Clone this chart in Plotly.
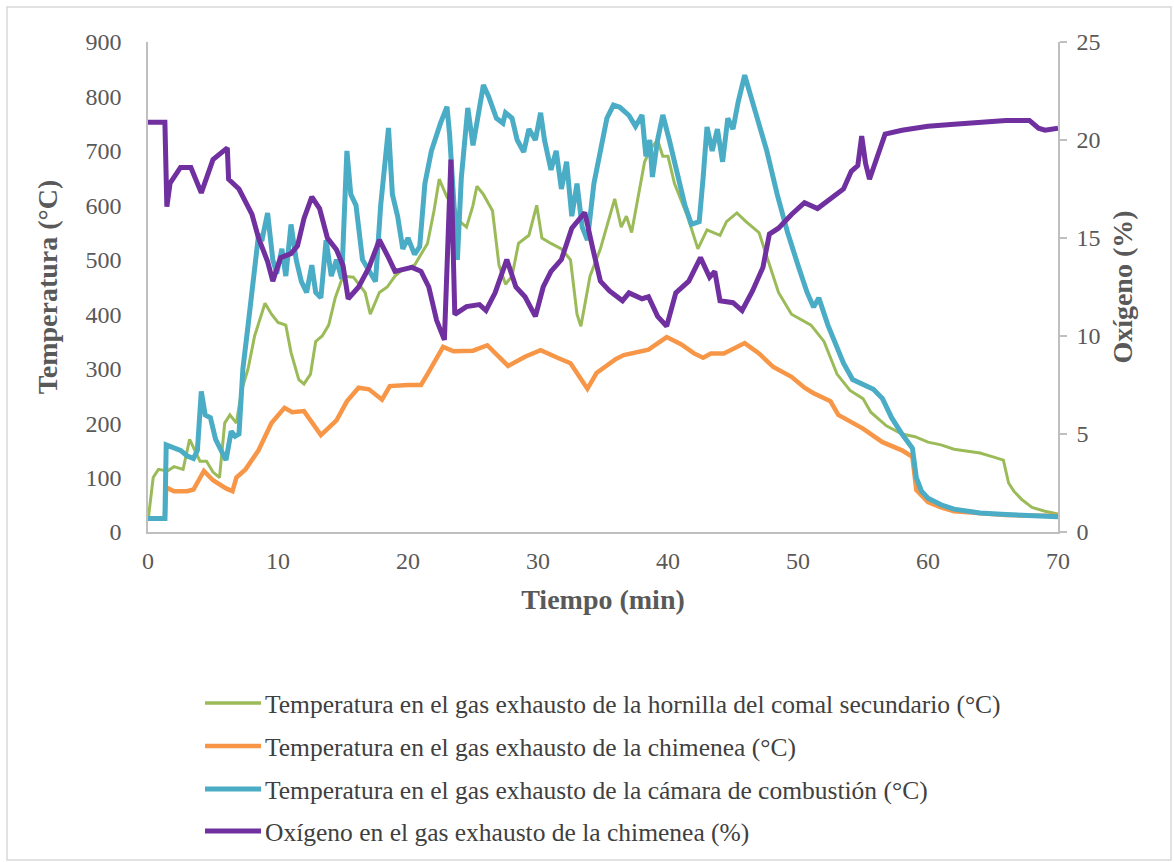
import plotly.graph_objects as go

# ---------------- data ----------------
t_green = [0, 0.4, 0.8, 1.5, 2, 2.7, 3.2, 3.6, 4, 4.5, 5, 5.5, 5.9, 6.3, 6.8, 7.2, 7.7, 8.2, 8.7, 9, 9.5, 10, 10.6,
           11, 11.6, 12, 12.5, 12.9, 13.4, 13.9, 14.4, 15, 15.8, 16.7, 17.1, 17.8, 18.4, 19, 19.5, 20.5, 21.5, 22,
           22.4, 23, 23.5, 24, 24.5, 25, 25.3, 25.8, 26.5, 27, 27.5, 28, 28.5, 29.3, 29.9, 30.3, 31, 31.8, 32.5, 33,
           33.3, 34, 34.8, 35.3, 35.9, 36.4, 36.8, 37.2, 37.6, 38.2, 38.7, 39.2, 39.6, 40, 40.5, 41.5, 42.3, 43,
           44, 44.5, 45.3, 46, 47, 47.8, 48.5, 49.5, 50.3, 51, 52, 53, 54, 55, 55.6, 56.8, 58, 59, 60, 61, 62, 63,
           64, 65, 65.8, 66.2, 66.6, 67.2, 68, 69, 70]
v_green = [20, 100, 115, 112, 120, 115, 170, 150, 130, 130, 110, 100, 200, 215, 200, 260, 300, 360, 400, 420, 400, 385,
           380, 330, 280, 272, 290, 350, 360, 380, 430, 470, 468, 440, 400, 440, 450, 470, 480, 490, 530, 590,
           648, 615, 600, 570, 560, 600, 635, 620, 590, 490, 455, 470, 530, 545, 600, 540, 530, 520, 500, 400,
           378, 470, 520, 560, 612, 560, 580, 550, 600, 680, 705, 720, 690, 690, 640, 580, 520, 555,
           545, 570, 586, 570, 550, 490, 440, 400, 390, 380, 350, 290, 260, 245, 220, 195, 180, 175, 165, 160, 152, 148,
           145, 138, 132, 90, 75, 60, 45, 38, 33]

t_orange = [0, 1.3, 1.4, 2, 3, 3.5, 4.3, 5, 6, 6.5, 6.8, 7.5, 8.5, 9.5, 10.5, 11.1, 12, 12.6, 13.3, 14.5, 15.3, 16.2,
            17, 18, 18.6, 20, 21, 21.5, 22.7, 23.5, 25, 26.1, 27.7, 29, 30.2, 31.5, 32.5, 33.8, 34.5, 36, 36.6,
            38.5, 39.9, 41, 42, 42.7, 43.3, 44.3, 45.9, 47, 48.1, 49.5, 50.5, 51.2, 52.5, 53.1, 55, 56.5, 58, 58.8,
            59.1, 60, 61, 62, 64, 66, 68, 70]
v_orange = [25, 25, 82, 75, 75, 78, 112, 95, 80, 75, 100, 115, 150, 200, 228, 220, 222, 200, 178, 205, 240, 265,
            262, 243, 268, 270, 270, 290, 340, 332, 333, 343, 305, 322, 334, 320, 310, 263, 292, 318, 325,
            335, 358, 345, 328, 320, 328, 328, 347, 328, 303, 285, 265, 255, 240, 215, 190, 165, 150, 138,
            77, 55, 45, 38, 34, 31, 30, 30]

t_cyan = [0, 1.3, 1.4, 2, 2.5, 3, 3.5, 3.8, 4.1, 4.4, 4.8, 5.2, 5.6, 6.0, 6.4, 6.7, 7.0, 7.3, 7.7, 8.1, 8.5, 8.8,
          9.2, 9.6, 9.9, 10.3, 10.6, 11.0, 11.4, 11.8, 12.2, 12.6, 12.9, 13.3, 13.7, 14.1, 14.5, 14.9, 15.3,
          15.6, 16.0, 16.5, 17.0, 17.5, 17.9, 18.5, 18.8, 19.2, 19.6, 20.0, 20.5, 20.9, 21.3, 21.8, 22.5, 23.0,
          23.2, 23.5, 23.8, 24.1, 24.6, 25.0, 25.4, 25.8, 26.2, 26.8, 27.3, 27.5, 28.0, 28.4, 28.9, 29.3, 29.8,
          30.2, 30.5, 31.0, 31.4, 31.8, 32.2, 32.6, 33.0, 33.4, 33.8, 34.3, 34.8, 35.3, 35.8, 36.3, 37.0, 37.5,
          38.0, 38.3, 38.6, 38.8, 39.2, 39.6, 40.1, 40.8, 41.3, 41.8, 42.4, 42.7, 43.0, 43.4, 43.8, 44.2, 44.6,
          45.0, 45.4, 45.9, 46.4, 46.9, 47.6, 48.4, 49.2, 50.0, 50.7, 51.2, 51.6, 52.3, 53.0, 53.5, 54.2, 55.0,
          55.8, 56.5, 57.2, 58.0, 58.8, 59.1, 59.5, 60.0, 61.0, 62.0, 63.0, 64.0, 66.0, 68.0, 70.0]
v_cyan = [25, 25, 160, 155, 150, 140, 135, 150, 258, 215, 210, 170, 150, 132, 185, 176, 180, 300, 380, 460, 545,
          540, 586, 500, 475, 520, 470, 565, 500, 460, 440, 490, 440, 430, 536, 470, 500, 465, 700,
          620, 600, 500, 480, 460, 600, 742, 620, 580, 520, 540, 510, 524, 640, 700, 751, 781,
          730, 600, 500, 650, 779, 710, 770, 821, 800, 760, 751, 770, 760, 720, 698, 740, 720,
          770, 720, 665, 700, 630, 680, 580, 640, 560, 536, 640, 700, 760, 784, 780, 765, 745,
          766, 690, 720, 652, 720, 766, 720, 650, 600, 565, 570, 650, 744, 700, 740, 680, 760,
          740, 790, 839, 800, 760, 700, 620, 550, 490, 440, 413, 430, 380, 340, 310, 280, 270,
          262, 245, 210, 180, 154, 100, 75, 62, 50, 42, 38, 35, 32, 30, 28]

t_oxy = [0, 1.3, 1.45, 1.7, 2.5, 3.3, 4.1, 5.0, 6.1, 6.2, 7.0, 8.0, 8.5, 9.2, 9.6, 10.2, 11.0, 11.5, 12.0, 12.6,
         13.2, 13.8, 14.5, 15.0, 15.4, 16.2, 17.0, 17.8, 18.5, 19.0, 20.3, 21.0, 21.6, 22.2, 22.8, 23.3, 23.6,
         23.8, 24.5, 25.5, 26.0, 26.7, 27.6, 28.3, 29.0, 29.8, 30.4, 31.0, 31.8, 32.6, 33.6, 34.2, 34.8, 35.5,
         36.5, 37.0, 38.0, 38.5, 39.2, 39.9, 40.6, 41.6, 42.5, 43.2, 43.6, 44.0, 45.0, 45.7, 46.5, 47.3, 47.8,
         48.5, 49.5, 50.5, 51.2, 51.5, 52.5, 53.5, 54.1, 54.6, 54.9, 55.2, 55.5, 56.0, 56.7, 58.0, 60.0, 62.0,
         64.0, 66.0, 67.8, 68.5, 69.0, 70.0]
v_oxy = [20.9, 20.9, 16.6, 17.8, 18.6, 18.6, 17.3, 19.0, 19.6, 18.0, 17.5, 16.2, 15.0, 13.8, 12.8, 14.0, 14.2, 14.6,
         16.0, 17.1, 16.5, 15.0, 14.4, 13.6, 11.9, 12.5, 13.5, 14.9, 14.0, 13.3, 13.5, 13.3, 12.5, 10.8, 9.8,
         19.0, 11.1, 11.2, 11.5, 11.6, 11.3, 12.2, 13.9, 12.5, 12.0, 11.0, 12.5, 13.3, 13.9, 15.5, 16.3, 14.5,
         12.8, 12.3, 11.8, 12.2, 11.9, 12.0, 11.0, 10.5, 12.2, 12.8, 14.0, 13.0, 13.3, 11.8, 11.7, 11.3, 12.3,
         13.5, 15.2, 15.5, 16.2, 16.8, 16.6, 16.5, 17.0, 17.5, 18.4, 18.7, 20.2, 18.8, 18.0, 19.0, 20.3, 20.5,
         20.7, 20.8, 20.9, 21.0, 21.0, 20.6, 20.5, 20.6]

names = [
    "Temperatura en el gas exhausto de la hornilla del comal secundario (°C)",
    "Temperatura en el gas exhausto de la chimenea (°C)",
    "Temperatura en el gas exhausto de la cámara de combustión (°C)",
    "Oxígeno en el gas exhausto de la chimenea (%)",
]
colors = ["#9BBB59", "#F79646", "#4BACC6", "#7030A0"]
widths = [3, 4.5, 5, 5]

x_ticks = [0, 10, 20, 30, 40, 50, 60, 70]
y_ticks = [0, 100, 200, 300, 400, 500, 600, 700, 800, 900]
y2_ticks = [0, 5, 10, 15, 20, 25]

# ---------------- figure ----------------
FONT = "Liberation Serif"
GREY = "#595959"
AX = "#BFBFBF"

fig = go.Figure()
series = [(t_green, v_green, "y"), (t_orange, v_orange, "y"), (t_cyan, v_cyan, "y"), (t_oxy, v_oxy, "y2")]
for i, (tt, vv, ax) in enumerate(series):
    fig.add_trace(go.Scatter(x=tt, y=vv, mode="lines", name=names[i], yaxis=ax,
                             showlegend=False,
                             line=dict(color=colors[i], width=widths[i])))

W, H = 1174, 862
L, R, T, B = 148, 116, 42, 330
pw, ph = W - L - R, H - T - B


def px_x(p):
    return (p - L) / pw


def px_y(p):
    return (H - B - p) / ph


fig.update_layout(
    width=W, height=H,
    margin=dict(l=L, r=R, t=T, b=B, autoexpand=False),
    plot_bgcolor="white", paper_bgcolor="white",
    font=dict(family=FONT, color=GREY, size=24),
    showlegend=False,
    xaxis=dict(range=[0, 70], tickvals=x_ticks, showgrid=False, zeroline=False,
               showline=True, linecolor=AX, linewidth=1.5, ticks="",
               ticklabelstandoff=6,
               tickfont=dict(family=FONT, size=24, color=GREY),
               title=dict(text="<b>Tiempo (min)</b>", standoff=17,
                          font=dict(family=FONT, size=28, color=GREY))),
    yaxis=dict(range=[0, 900], tickvals=y_ticks, showgrid=False, zeroline=False,
               showline=True, linecolor=AX, linewidth=1.5, ticks="",
               ticklabelstandoff=20,
               tickfont=dict(family=FONT, size=24, color=GREY),
               title=dict(text="<b>Temperatura (°C)</b>", standoff=20,
                          font=dict(family=FONT, size=28, color=GREY))),
    yaxis2=dict(range=[0, 25], tickvals=y2_ticks, overlaying="y", side="right",
                showgrid=False, zeroline=False, showline=True, linecolor=AX, linewidth=1.5,
                ticks="outside", ticklen=7, tickcolor=AX, tickwidth=1.5,
                ticklabelstandoff=5,
                tickfont=dict(family=FONT, size=24, color=GREY),
                title=dict(text="<b>Oxígeno (%)</b>", standoff=13,
                           font=dict(family=FONT, size=28, color=GREY))),
)

# outer chart frame
fig.add_shape(type="rect", xref="paper", yref="paper",
              x0=px_x(7), x1=px_x(1171), y0=px_y(860), y1=px_y(7),
              line=dict(color="#D9D9D9", width=1.5), fillcolor="rgba(0,0,0,0)", layer="below")

# legend (drawn below the plot, one entry per row)
legend_rows = [703, 746, 789, 831]
for i, row in enumerate(legend_rows):
    fig.add_shape(type="line", xref="paper", yref="paper",
                  x0=px_x(205), x1=px_x(261), y0=px_y(row), y1=px_y(row),
                  line=dict(color=colors[i], width=widths[i] if i else 3.5))
    fig.add_annotation(xref="paper", yref="paper", x=px_x(263), y=px_y(row + 1),
                       xanchor="left", yanchor="middle", showarrow=False,
                       text=names[i], font=dict(family=FONT, size=25.5, color="#404040"))

fig.write_html("out.html")
